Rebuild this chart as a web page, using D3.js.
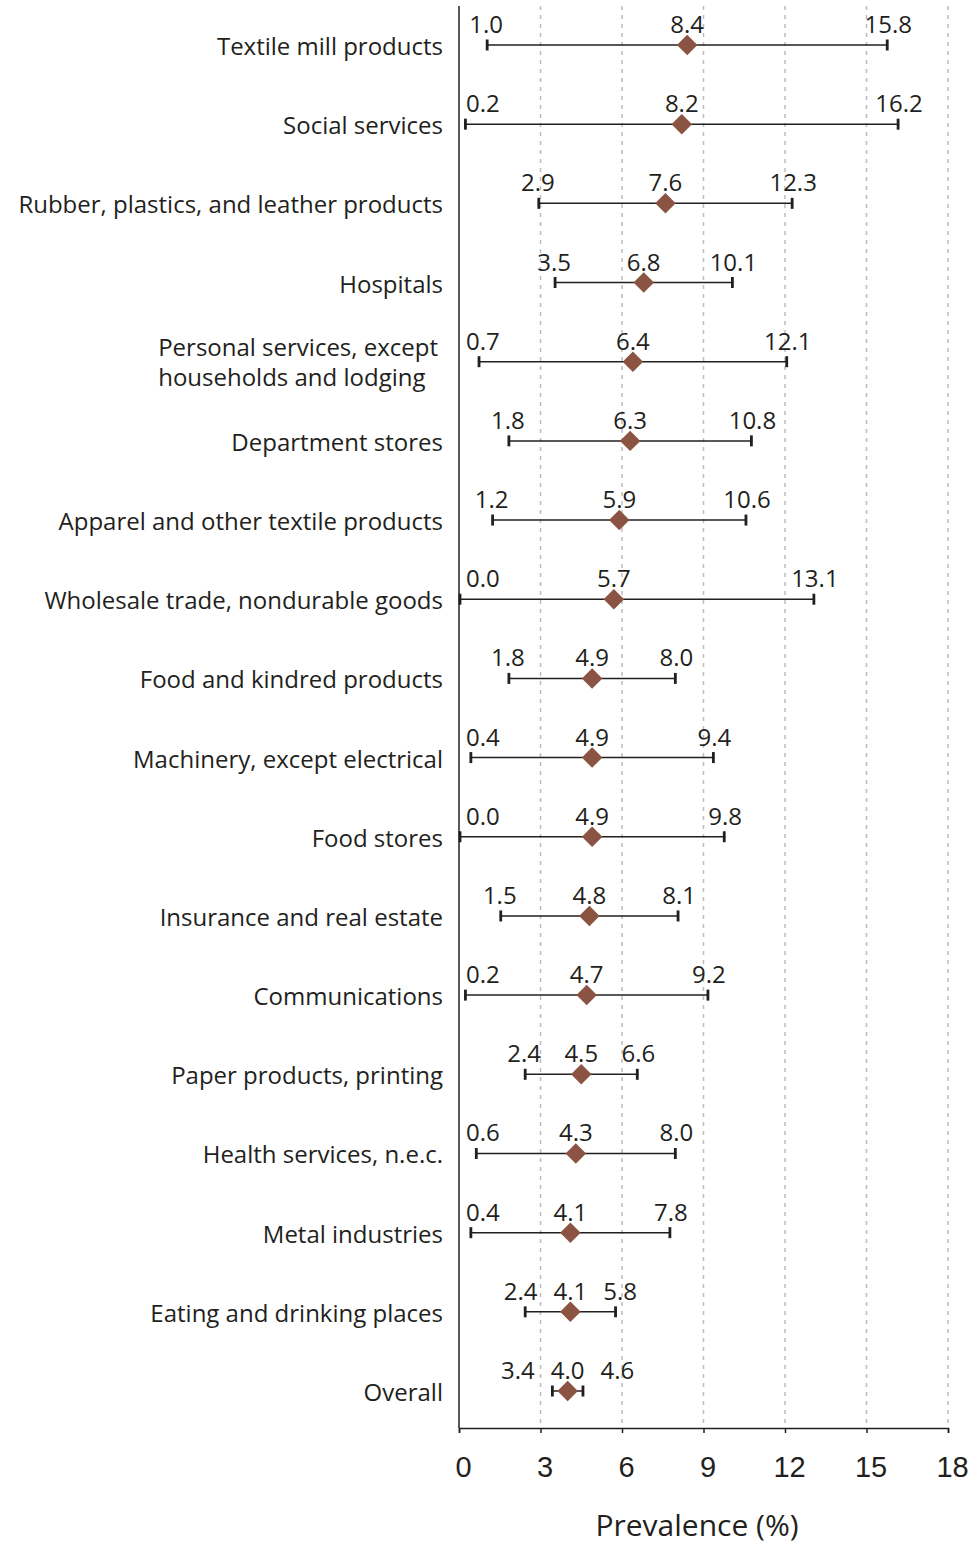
<!DOCTYPE html>
<html><head><meta charset="utf-8">
<script src="https://cdn.jsdelivr.net/npm/d3@7"></script>
<style>body{margin:0;background:#fff}svg{display:block}</style>
</head><body>
<svg id="chart" width="977" height="1547"></svg>
<script>
const categories = ["Textile mill products","Social services","Rubber, plastics, and leather products","Hospitals","Personal services, except|households and lodging","Department stores","Apparel and other textile products","Wholesale trade, nondurable goods","Food and kindred products","Machinery, except electrical","Food stores","Insurance and real estate","Communications","Paper products, printing","Health services, n.e.c.","Metal industries","Eating and drinking places","Overall"];
const lower = [1.0,0.2,2.9,3.5,0.7,1.8,1.2,0.0,1.8,0.4,0.0,1.5,0.2,2.4,0.6,0.4,2.4,3.4];
const mean  = [8.4,8.2,7.6,6.8,6.4,6.3,5.9,5.7,4.9,4.9,4.9,4.8,4.7,4.5,4.3,4.1,4.1,4.0];
const upper = [15.8,16.2,12.3,10.1,12.1,10.8,10.6,13.1,8.0,9.4,9.8,8.1,9.2,6.6,8.0,7.8,5.8,4.6];
const xTicks = [0,3,6,9,12,15,18];
const xTitle = "Prevalence (%)";

const data = categories.map((c,i)=>({c, lo:lower[i], m:mean[i], hi:upper[i]}));
const svg = d3.select("#chart");
const font = "'Open Sans', 'Noto Sans', sans-serif";
const ink = "#231f20";
const axisY = 1428;
const x = d3.scaleLinear().domain([0,18]).range([459,948]);
const y = d3.scaleBand().domain(categories).range([5.4,1430.6]).padding(0);

// gridlines
svg.append("g").selectAll("line").data(xTicks.filter(t=>t>0)).join("line")
  .attr("x1",d=>x(d)).attr("x2",d=>x(d)).attr("y1",6).attr("y2",axisY)
  .attr("stroke","#bdbdbd").attr("stroke-width",1.5).attr("stroke-dasharray","4,5");

// axes
const xAxis = d3.axisBottom(x).tickValues(xTicks).tickSize(5).tickFormat(d3.format("d"));
const gx = svg.append("g").attr("transform",`translate(0,${axisY})`).call(xAxis);
gx.select(".domain").attr("stroke",ink).attr("stroke-width",1.5);
gx.selectAll(".tick line").attr("stroke",ink).attr("stroke-width",1.5);
gx.selectAll(".tick text").attr("font-family","'Liberation Sans', Arial, sans-serif").attr("font-size",29)
  .attr("fill",ink).attr("dy",0).attr("y",49).attr("dx",4);
svg.append("line").attr("x1",x(0)).attr("x2",x(0)).attr("y1",6).attr("y2",axisY).attr("stroke",ink).attr("stroke-width",1.5);

svg.append("text").attr("x",697).attr("y",1536).attr("text-anchor","middle")
  .attr("font-family",font).attr("font-size",30).attr("fill",ink).text(xTitle);

// category labels
data.forEach(d=>{
  const cy = y(d.c)+y.bandwidth()/2;
  const lines = d.c.split("|");
  if(lines.length===1){
    svg.append("text").attr("x",443).attr("y",cy+10).attr("text-anchor","end")
      .attr("font-family",font).attr("font-size",24).attr("fill",ink).text(lines[0]);
  } else {
    const t = svg.append("text").attr("font-family",font).attr("font-size",24).attr("fill",ink);
    lines.forEach((l,k)=>t.append("tspan").attr("x",0).attr("y",cy-6+k*30).text(l));
    const w = d3.max(t.selectAll("tspan").nodes(),n=>n.getComputedTextLength());
    t.selectAll("tspan").attr("x",438-w);
  }
});

// error bars
const rows = svg.append("g").selectAll("g").data(data).join("g")
  .attr("transform",d=>`translate(0,${y(d.c)+y.bandwidth()/2})`);
rows.append("line").attr("x1",d=>x(d.lo)).attr("x2",d=>x(d.hi)).attr("stroke",ink).attr("stroke-width",1.5);
rows.append("line").attr("x1",d=>x(d.lo)+1).attr("x2",d=>x(d.lo)+1).attr("y1",-5.5).attr("y2",5.5).attr("stroke",ink).attr("stroke-width",2.8);
rows.append("line").attr("x1",d=>x(d.hi)-1).attr("x2",d=>x(d.hi)-1).attr("y1",-5.5).attr("y2",5.5).attr("stroke",ink).attr("stroke-width",2.8);
rows.append("path").attr("d",d3.symbol().type(d3.symbolSquare).size(210))
  .attr("transform",d=>`translate(${x(d.m)},0) rotate(45)`).attr("fill","#8b5442");

// value labels
rows.each(function(d){
  const g = d3.select(this);
  const mk = (v)=>g.append("text").attr("y",-12).attr("text-anchor","middle")
      .attr("font-family",font).attr("font-size",24).attr("fill",ink).text(d3.format(".1f")(v));
  const tm = mk(d.m).attr("x",x(d.m));
  const wm = tm.node().getComputedTextLength();
  const tl = mk(d.lo); const wl = tl.node().getComputedTextLength();
  const th = mk(d.hi); const wh = th.node().getComputedTextLength();
  const gap = 16;
  let lx = x(d.lo);
  lx = Math.max(lx, x(0)+7+wl/2);
  lx = Math.min(lx, x(d.m)-wm/2-gap-wl/2);
  let hx = Math.max(x(d.hi), x(d.m)+wm/2+gap+wh/2);
  tl.attr("x",lx); th.attr("x",hx);
});
</script>
</body></html>
